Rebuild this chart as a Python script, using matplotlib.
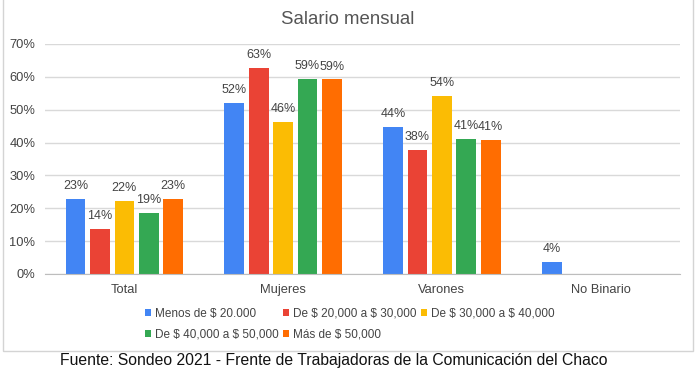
import matplotlib
matplotlib.use("Agg")
import matplotlib.pyplot as plt
from matplotlib.patches import Rectangle
import numpy as np

plt.rcParams['font.family'] = ['Liberation Sans', 'DejaVu Sans']

categories = ["Total", "Mujeres", "Varones", "No Binario"]
series_names = ["Menos de \\$ 20.000", "De \\$ 20,000 a \\$ 30,000", "De \\$ 30,000 a \\$ 40,000",
                "De \\$ 40,000 a \\$ 50,000", "Más de \\$ 50,000"]
menos_20 = [22.8, 52.0, 44.7, 3.6]
de_20_30 = [13.7, 62.8, 37.7, 0]
de_30_40 = [22.3, 46.2, 54.3, 0]
de_40_50 = [18.6, 59.3, 41.0, 0]
mas_50 = [22.8, 59.2, 40.8, 0]
labels_pct = [
    ["23%", "52%", "44%", "4%"],
    ["14%", "63%", "38%", None],
    ["22%", "46%", "54%", None],
    ["19%", "59%", "41%", None],
    ["23%", "59%", "41%", None],
]
colors = ["#4285F4", "#EA4335", "#FBBC04", "#34A853", "#FF6D01"]
title = "Salario mensual"
caption = "Fuente: Sondeo 2021 - Frente de Trabajadoras de la Comunicación del Chaco"

values = [menos_20, de_20_30, de_30_40, de_40_50, mas_50]

W, H = 695, 376
fig = plt.figure(figsize=(W / 100, H / 100), dpi=100)
ax = fig.add_axes([45 / W, 1 - 274 / H, (680 - 45) / W, (274 - 44) / H])

x = np.arange(len(categories))
step = 0.154
width = 0.124
handles = []
for i, (vals, col, labs) in enumerate(zip(values, colors, labels_pct)):
    xs = x + (i - 2) * step
    bars = ax.bar(xs, [v / 100 for v in vals], width=width, color=col, zorder=3,
                  label=series_names[i])
    handles.append(bars)
    for xi, v, lab in zip(xs, vals, labs):
        if lab is None:
            continue
        ax.annotate(lab, (xi, v / 100), xytext=(0, 5), textcoords="offset points",
                    ha="center", va="bottom", fontsize=9.0, color="#444444", zorder=4)

ax.set_xlim(-0.5, 3.5)
ax.set_ylim(0, 0.70)
ax.set_yticks(np.arange(0, 0.71, 0.10))
ax.set_yticklabels([f"{int(round(t * 100))}%" for t in np.arange(0, 0.71, 0.10)])
ax.set_xticks(x)
ax.set_xticklabels(categories)
ax.tick_params(axis="both", length=0, labelsize=9.3, labelcolor="#444444")
ax.tick_params(axis="y", pad=7)
ax.tick_params(axis="x", pad=7)
ax.grid(axis="y", color="#d9d9d9", linewidth=1, zorder=0)
for s in ["top", "right", "left"]:
    ax.spines[s].set_visible(False)
ax.spines["bottom"].set_color("#bdbdbd")
ax.spines["bottom"].set_zorder(5)

fig.text(0.5, 1 - 20 / H, title, ha="center", va="center",
         fontsize=13.4, color="#555555")

order = [0, 3, 1, 4, 2]
leg = fig.legend([handles[k] for k in order], [series_names[k] for k in order],
                 ncol=3, loc="upper left", bbox_to_anchor=(145 / W, 1 - 308 / H),
                 frameon=False, fontsize=8.5, handlelength=0.55, handleheight=0.55,
                 handletextpad=0.3, columnspacing=0.35, labelspacing=0.75,
                 borderpad=0, borderaxespad=0)
for t in leg.get_texts():
    t.set_color("#444444")

# chart border
fig.add_artist(Rectangle((3 / W, 1 - 351 / H), (693 - 3) / W, 351 / H + 0.01,
                         transform=fig.transFigure, fill=False, edgecolor="#d4d4d4",
                         linewidth=1))

fig.text(334 / W, 1 - 361 / H, caption, ha="center", va="center", fontsize=11.3,
         color="#111111")

fig.savefig("out.png", dpi=100)
